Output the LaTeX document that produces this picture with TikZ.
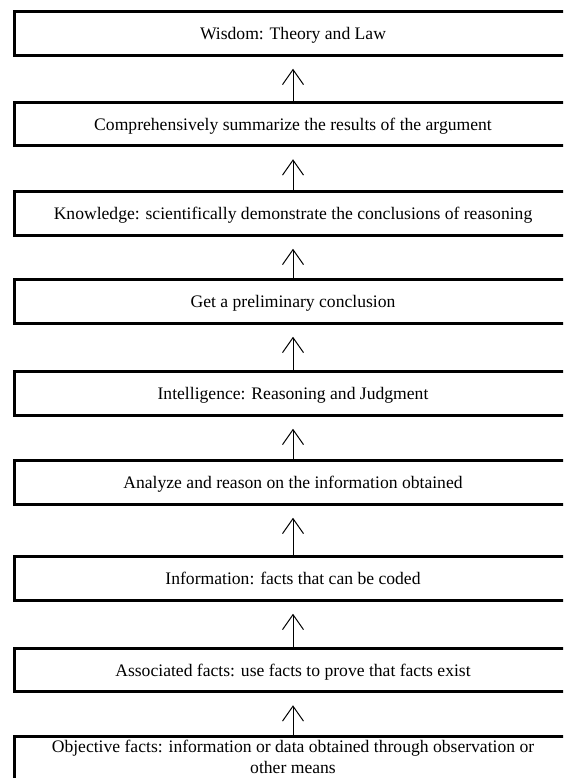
\documentclass[tikz,border=0pt]{standalone}
\usepackage{fontspec}
\setmainfont{Liberation Serif}
\usetikzlibrary{arrows.meta}
\begin{document}
\begin{tikzpicture}[x=1pt,y=-1pt,
  stagebox/.style={draw=black, line width=3pt, minimum width=557pt, minimum height=43.5pt,
    inner sep=0pt, font=\fontsize{17.6}{22}\selectfont, align=center},
  uparrow/.style={line width=1pt, -{Straight Barb[length=15pt,width=21pt,line width=1pt]}}]
\useasboundingbox (0,0) rectangle (563,778);
\fill[white] (0,0) rectangle (563,778);
\clip (0,0) rectangle (563,778);
\begin{scope}[every node/.append style={text depth=0pt}]
\node[stagebox] (b1) at (293,33.5) {Wisdom: Theory and Law};
\node[stagebox] (b2) at (293,124) {Comprehensively summarize the results of the argument};
\node[stagebox] (b3) at (293,213.5) {Knowledge: scientifically demonstrate the conclusions of reasoning};
\node[stagebox] (b4) at (293,301.5) {Get a preliminary conclusion};
\node[stagebox] (b5) at (293,393.5) {Intelligence: Reasoning and Judgment};
\node[stagebox] (b6) at (293,482.5) {Analyze and reason on the information obtained};
\node[stagebox] (b7) at (293,578.5) {Information: facts that can be coded};
\node[stagebox] (b8) at (293,670) {Associated facts: use facts to prove that facts exist};
\end{scope}
\node[stagebox, anchor=north, minimum height=0pt, inner ysep=3.5pt, text depth=16pt] (b9) at (293,735)
  {Objective facts: information or data obtained through observation or\\[-1pt] other means};
\foreach \lo/\hi in {b2/b1,b3/b2,b4/b3,b5/b4,b6/b5,b7/b6,b8/b7,b9/b8}{
  \draw[uparrow] (\lo.north) -- ([yshift=-12pt]\hi.south);
}
\end{tikzpicture}
\end{document}
